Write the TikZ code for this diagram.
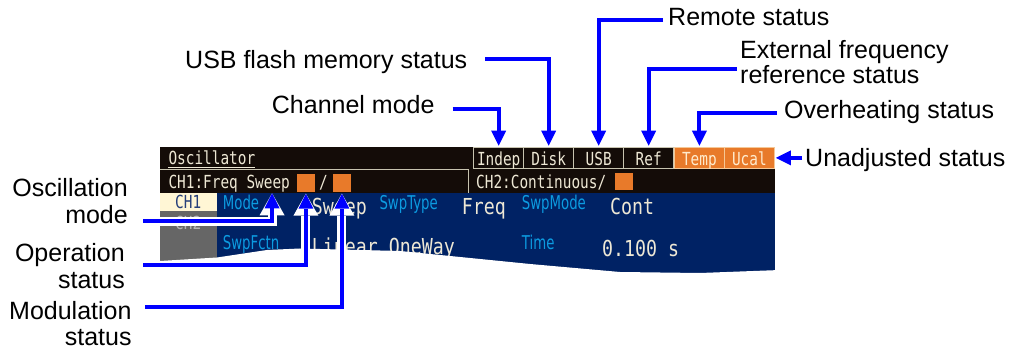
\documentclass[tikz,border=0pt]{standalone}
\usepackage{fontspec}
\setmainfont{Liberation Sans}
\newfontfamily\scrfont[FakeStretch=0.8]{DejaVu Sans Mono}
\newfontfamily\valfont[FakeStretch=0.83]{DejaVu Sans Mono}
\newfontfamily\keyfont[FakeStretch=0.7]{DejaVu Sans}
\usetikzlibrary{arrows.meta}
\definecolor{scrdark}{RGB}{20,12,8}
\definecolor{scrtext}{RGB}{238,232,213}
\definecolor{scrorange}{RGB}{232,122,42}
\definecolor{scrnavy}{RGB}{0,34,100}
\definecolor{scrcyan}{RGB}{12,155,225}
\definecolor{scrcream}{RGB}{255,246,213}
\definecolor{scrgray}{RGB}{102,102,102}
\definecolor{boxline}{RGB}{200,196,176}
\definecolor{hotline}{RGB}{245,200,150}
\definecolor{hottext}{RGB}{255,235,205}
\definecolor{tabtext}{RGB}{39,64,122}
\definecolor{ch2text}{RGB}{180,180,180}
\definecolor{arrblue}{RGB}{0,0,255}
\begin{document}
\begin{tikzpicture}[x=1pt,y=-1pt,
  lbl/.style={font=\fontsize{25}{26.5}\selectfont, inner sep=0pt},
  arr/.style={draw=arrblue, line width=4pt, -{Triangle[width=15pt,length=15pt,line width=0pt]}},
  casing/.style={draw=white, line width=9pt, -{Triangle[width=25pt,length=22pt,line width=0pt]}},
  stbox/.style={draw=boxline, line width=0.8pt, fill=scrdark, text=scrtext,
    font=\scrfont\fontsize{18}{18}\selectfont, inner sep=0pt, minimum height=21.6pt,
    minimum width=50pt, text height=15pt, text depth=0pt, anchor=north west},
  hot/.style={stbox, fill=scrorange, draw=hotline, text=hottext},
  scr/.style={font=\scrfont\fontsize{18}{18}\selectfont, text=scrtext, inner sep=0pt, anchor=base west},
  val/.style={font=\valfont\fontsize{22}{22}\selectfont, text=scrtext, inner sep=0pt, anchor=base west},
  key/.style={font=\keyfont\fontsize{19}{19}\selectfont, text=scrcyan, inner sep=0pt, anchor=base west},
  sq/.style={fill=scrorange, inner sep=0pt, minimum width=18pt, minimum height=17.4pt, anchor=north west},
]
\useasboundingbox (0,0) rectangle (1014,352);

% ---- screen: header bar
\fill[scrdark] (160,146.7) rectangle (775,193.3);
\node[scr] (osc) at (168.3,165) {Oscillator};
\draw[scrtext, line width=1.2pt] ([yshift=-1.7pt]osc.south west) -- ([yshift=-1.7pt]osc.south east);
\draw[boxline, line width=0.8pt] (160,169.5) -- (468.3,169.5) -- (468.3,193.3);
\node[scr] (ch1) at (168.3,188.3) {CH1:Freq Sweep};
\node[sq] (sq1) at (296.7,174.3) {};
\node[scr] (slash) at (319,188.3) {/};
\node[sq] (sq2) at (332.7,174.3) {};
\node[scr] (ch2) at (476,188.3) {CH2:Continuous/};
\node[sq] (sq3) at (615,172.7) {};

\node[stbox] (bIndep) at (473.3,146.7) {Indep};
\node[stbox] (bDisk) at (523.3,146.7) {Disk};
\node[stbox] (bUSB) at (573.3,146.7) {USB};
\node[stbox] (bRef) at (623.3,146.7) {Ref};
\node[hot] (bTemp) at (674,146.7) {Temp};
\node[hot] (bUcal) at (724,146.7) {Ucal};

% ---- screen: settings area
\fill[scrnavy] (160,193.3) rectangle (775,285);
\fill[scrcream] (160,193.3) rectangle (216.7,211);
\fill[scrgray] (160,211) rectangle (216.7,268);
\node[scr, text=tabtext] (tab1) at (175,208.3) {CH1};
\node[scr, text=ch2text] (tab2) at (175,230) {CH2};
\node[key] (kMode) at (222.7,210) {Mode};
\node[val] (vSweep) at (311.7,215) {Sweep};
\node[key] (kType) at (379.3,210) {SwpType};
\node[val] (vFreq) at (461.7,215) {Freq};
\node[key] (kSMode) at (521.7,210) {SwpMode};
\node[val] (vCont) at (610,215) {Cont};
\node[key] (kFctn) at (222.7,250) {SwpFctn};
\node[val] (vLin) at (311.7,255) {Linear OneWay};
\node[key] (kTime) at (521.7,250) {Time};
\node[val] (vTime) at (602,256.7) {0.100 s};
% torn lower edge
\fill[white] (150,261) -- (160,261) -- (217,257.5) -- (267,250) -- (300,248.5) -- (400,251)
  -- (460,257) -- (530,264) -- (620,272) -- (700,273) -- (780,270) -- (780,295) -- (150,295) -- cycle;

% ---- labels
\node[lbl, anchor=base west] (lRemote) at (668,26) {Remote status};
\node[lbl, anchor=base west] (lFlash) at (185,68.3) {USB flash memory status};
\node[lbl, anchor=north west, align=left, font=\fontsize{25}{25}\selectfont] (lExt) at (740,40.1) {External frequency\\reference status};
\node[lbl, anchor=base west] (lChan) at (271.7,114) {Channel mode};
\node[lbl, anchor=base west] (lOver) at (784,118.3) {Overheating status};
\node[lbl, anchor=base west] (lUnadj) at (805,166.5) {Unadjusted status};
\node[lbl, anchor=north east, align=right] (lOsc) at (128,178.5) {Oscillation\\mode};
\node[lbl, anchor=north east, align=right] (lOper) at (125,243.5) {Operation\\status};
\node[lbl, anchor=north east, align=right] (lMod) at (131.7,300.8) {Modulation\\status};

% ---- connectors (top)
\draw[arr, shorten >=1pt] ([xshift=-5pt,yshift=-2.3pt]lRemote.west) -| (bUSB.north);
\draw[arr, shorten >=1pt] ([xshift=18pt,yshift=2.5pt]lFlash.east) -| (bDisk.north);
\draw[arr, shorten >=1pt] ([xshift=-3pt,yshift=-6.6pt]lExt.west) -| (bRef.north);
\draw[arr, shorten >=1pt] ([xshift=18pt,yshift=-4.4pt]lChan.east) -| (bIndep.north);
\draw[arr, shorten >=1pt] ([xshift=-7pt,yshift=-1.4pt]lOver.west) -| (bTemp.north);
\path ([xshift=-3pt]lUnadj.west) coordinate (uA);
\draw[arr, shorten >=1pt] (uA |- bUcal.east) -- (bUcal.east);

% ---- connectors (bottom, with white casing)
\path ([xshift=15pt,yshift=2.4pt]lOsc.south east) coordinate (oscA);
\path ([xshift=-18pt,yshift=-1pt]ch1.south east) coordinate (oscB);
\path ([xshift=18pt,yshift=0.7pt]lOper.east) coordinate (opA);
\path ([xshift=13.3pt,yshift=-5.9pt]lMod.north east) coordinate (modA);
\draw[casing] (oscA) -| (oscB);
\draw[arr] (oscA) -| (oscB);
\draw[casing, shorten >=1.6pt] (opA) -| (sq1.south);
\draw[arr, shorten >=1.6pt] (opA) -| (sq1.south);
\draw[casing, shorten >=1.6pt] (modA) -| (sq2.south);
\draw[arr, shorten >=1.6pt] (modA) -| (sq2.south);
\end{tikzpicture}
\end{document}
